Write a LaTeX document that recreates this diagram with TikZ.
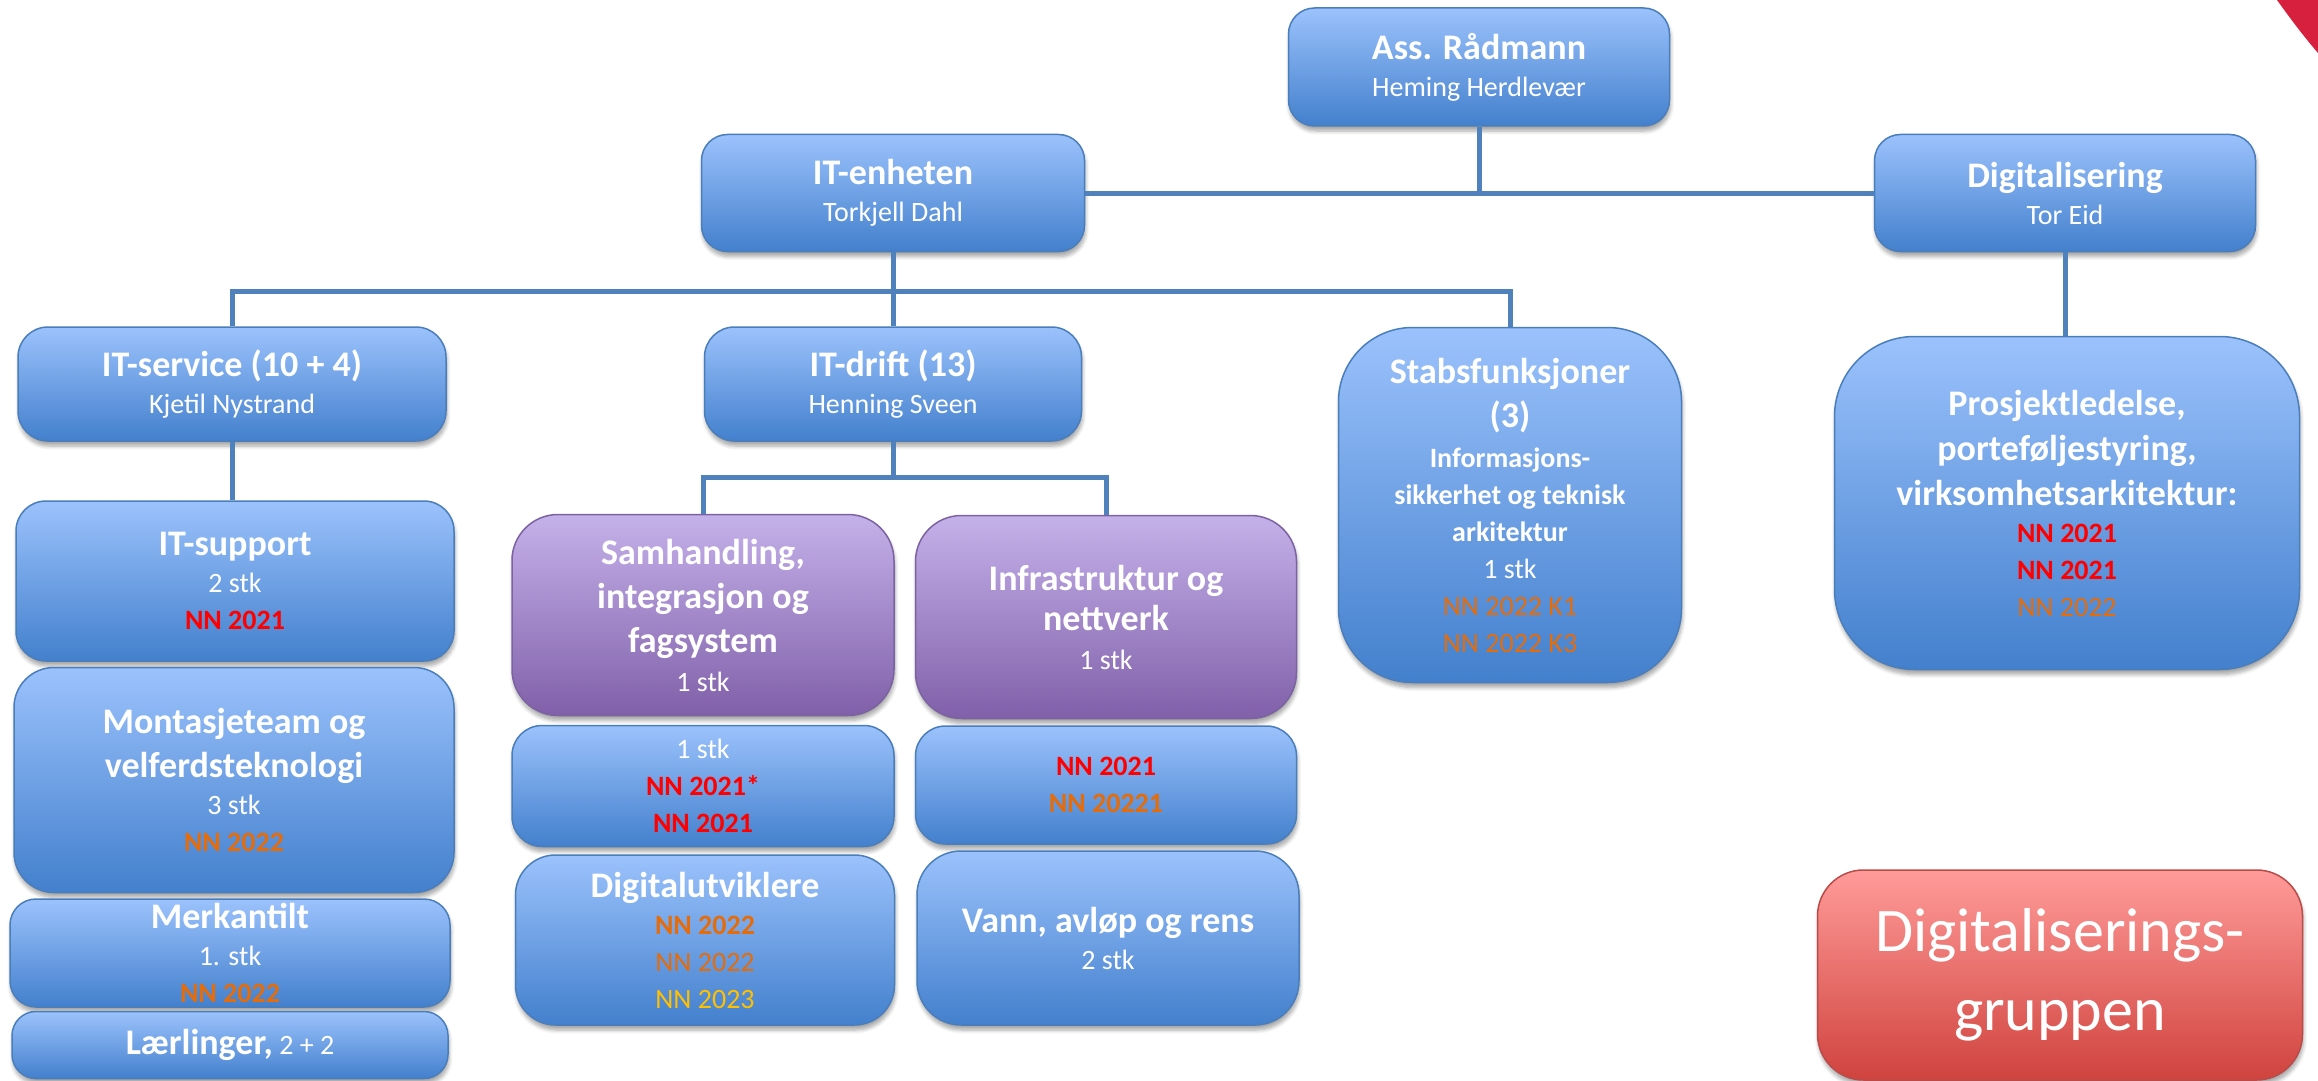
\documentclass[tikz,border=0pt]{standalone}
\usepackage{fontspec}
\setmainfont{Carlito}
\usetikzlibrary{shadows.blur}

\definecolor{boxtop}{RGB}{155,194,252}
\definecolor{boxbot}{RGB}{67,128,205}
\definecolor{boxline}{RGB}{74,126,187}
\definecolor{lilatop}{RGB}{197,177,234}
\definecolor{lilabot}{RGB}{128,96,169}
\definecolor{lilaline}{RGB}{123,98,160}
\definecolor{rodtop}{RGB}{255,155,153}
\definecolor{rodbot}{RGB}{208,67,62}
\definecolor{rodline}{RGB}{185,75,72}
\definecolor{linje}{RGB}{79,129,189}
\definecolor{nnrod}{RGB}{255,0,0}
\definecolor{nnoransje}{RGB}{228,108,10}
\definecolor{nngul}{RGB}{255,192,0}
\definecolor{hjorne}{RGB}{214,32,62}

\newcommand{\tittel}{\fontsize{18}{22}\selectfont\bfseries}

\tikzset{
	box/.style={rounded corners=15pt, draw=boxline, line width=0.75pt,
		top color=boxtop, bottom color=boxbot, text=white, align=center,
		inner sep=2pt, font=\fontsize{14}{18.5}\selectfont,
		blur shadow={shadow xshift=0.5pt, shadow yshift=-2.5pt, shadow opacity=35, shadow blur steps=6}},
	lilla/.style={box, draw=lilaline, top color=lilatop, bottom color=lilabot},
	rodboks/.style={box, draw=rodline, top color=rodtop, bottom color=rodbot},
	kobling/.style={draw=linje, line width=2.5pt}
}

\begin{document}
\begin{tikzpicture}[x=0.5pt, y=-0.5pt]
	
	\useasboundingbox (0,0) rectangle (2318,1081);
	
	% Red corner of the slide
	\fill[hjorne] (2277,0) .. controls (2292,21) and (2305,38) .. (2318,53) -- (2318,0) -- cycle;
	
	% Top level
	\node[box, minimum width=190.5pt, minimum height=59pt, rounded corners=13pt] (raadmann) at (1479,67) {{\tittel Ass. Rådmann}\\Heming Herdlevær};
	\node[box, minimum width=191.5pt, minimum height=58.5pt, rounded corners=13pt] (itenhet) at (893,193) {{\tittel IT-enheten}\\Torkjell Dahl};
	\node[box, minimum width=190.5pt, minimum height=58.5pt, rounded corners=13pt] (digital) at (2065,193) {{\tittel Digitalisering}\\Tor Eid};
	
	% Second level
	\node[box, minimum width=214pt, minimum height=57pt] (itservice) at (232,384) {{\tittel IT-service (10 + 4)}\\Kjetil Nystrand};
	\node[box, minimum width=188.5pt, minimum height=57pt] (itdrift) at (893,384) {{\tittel IT-drift (13)}\\Henning Sveen};
	\node[box, minimum width=171.5pt, minimum height=177.5pt, rounded corners=37pt] (stab) at (1510,505) {{\tittel Stabsfunksjoner}\\[3.5pt]{\tittel (3)}\\[1.5pt]
		{\bfseries Informasjons-}\\{\bfseries sikkerhet og teknisk}\\{\bfseries arkitektur}\\1 stk\\
		{\color{nnoransje}NN 2022 K1}\\{\color{nnoransje}NN 2022 K3}};
	\node[box, minimum width=232.5pt, minimum height=166.5pt, rounded corners=40pt] (prosjekt) at (2067,503) {{\tittel Prosjektledelse,}\\[4pt]{\tittel porteføljestyring,}\\[4pt]{\tittel virksomhetsarkitektur:}\\
		{\bfseries\color{nnrod}NN 2021}\\{\bfseries\color{nnrod}NN 2021}\\{\color{nnoransje}NN 2022}};
	
	% IT-service column
	\node[box, minimum width=219pt, minimum height=80pt] (itsupport) at (235,581) {{\tittel IT-support}\\2 stk\\{\bfseries\color{nnrod}NN 2021}};
	\node[box, minimum width=220pt, minimum height=112.5pt, rounded corners=20pt] (montasje) at (234,780) {{\tittel Montasjeteam og}\\[3.5pt]{\tittel velferdsteknologi}\\3 stk\\{\bfseries\color{nnoransje}NN 2022}};
	\node[box, minimum width=220pt, minimum height=54pt, rounded corners=13pt, inner sep=0pt] (merkantilt) at (230,953) {{\tittel Merkantilt}\\1. stk\\{\bfseries\color{nnoransje}NN 2022}};
	\node[box, minimum width=218pt, minimum height=33.5pt, rounded corners=12pt] (laerling) at (230,1045) {{\tittel Lærlinger,} 2 + 2};
	
	% IT-drift columns
	\node[lilla, minimum width=191pt, minimum height=100.5pt, rounded corners=23pt] (samhandling) at (703,615) {{\tittel Samhandling,}\\[3.5pt]{\tittel integrasjon og}\\[3.5pt]{\tittel fagsystem}\\[1pt]1 stk};
	\node[lilla, minimum width=190.5pt, minimum height=101.5pt, rounded corners=23pt] (infra) at (1106,617) {{\tittel Infrastruktur og}\\[1.5pt]{\tittel nettverk}\\[1pt]1 stk};
	\node[box, minimum width=191pt, minimum height=60.5pt] (nnsam) at (703,786) {1 stk\\{\bfseries\color{nnrod}NN 2021*}\\{\bfseries\color{nnrod}NN 2021}};
	\node[box, minimum width=190.5pt, minimum height=59pt] (nninfra) at (1106,785) {{\bfseries\color{nnrod}NN 2021}\\{\bfseries\color{nnoransje}NN 20221}};
	\node[box, minimum width=189.5pt, minimum height=85pt, rounded corners=20pt] (digutv) at (705,940) {{\tittel Digitalutviklere}\\{\bfseries\color{nnoransje}NN 2022}\\{\color{nnoransje}NN 2022}\\{\color{nngul}NN 2023}};
	\node[box, minimum width=191pt, minimum height=87pt, rounded corners=22pt] (vann) at (1108,938) {{\tittel Vann, avløp og rens}\\2 stk};
	
	% Group label
	\node[rodboks, minimum width=242.5pt, minimum height=105pt, rounded corners=23pt, font=\fontsize{31}{39.5}\selectfont] (dgruppe) at (2060,975) {Digitaliserings-\\gruppen};
	
	% Connectors
	\coordinate (toppkryss) at (raadmann.south |- itenhet.east);
	\draw[kobling] (itenhet.east) -- (digital.west);
	\draw[kobling] (raadmann.south) -- (toppkryss);
	\draw[kobling] (digital.south) -- (digital.south |- prosjekt.north);
	
	\coordinate (itkryss) at (893,291);
	\draw[kobling] (itenhet.south) -- (itkryss);
	\draw[kobling] (itservice.north) |- (itkryss) -| (stab.north);
	\draw[kobling] (itkryss) -- (itdrift.north);
	\draw[kobling] (itservice.south) -- (itservice.south |- itsupport.north);
	
	\coordinate (driftkryss) at (893,477);
	\draw[kobling] (itdrift.south) -- (driftkryss);
	\draw[kobling] (samhandling.north) |- (driftkryss) -| (infra.north);
\end{tikzpicture}
\end{document}
